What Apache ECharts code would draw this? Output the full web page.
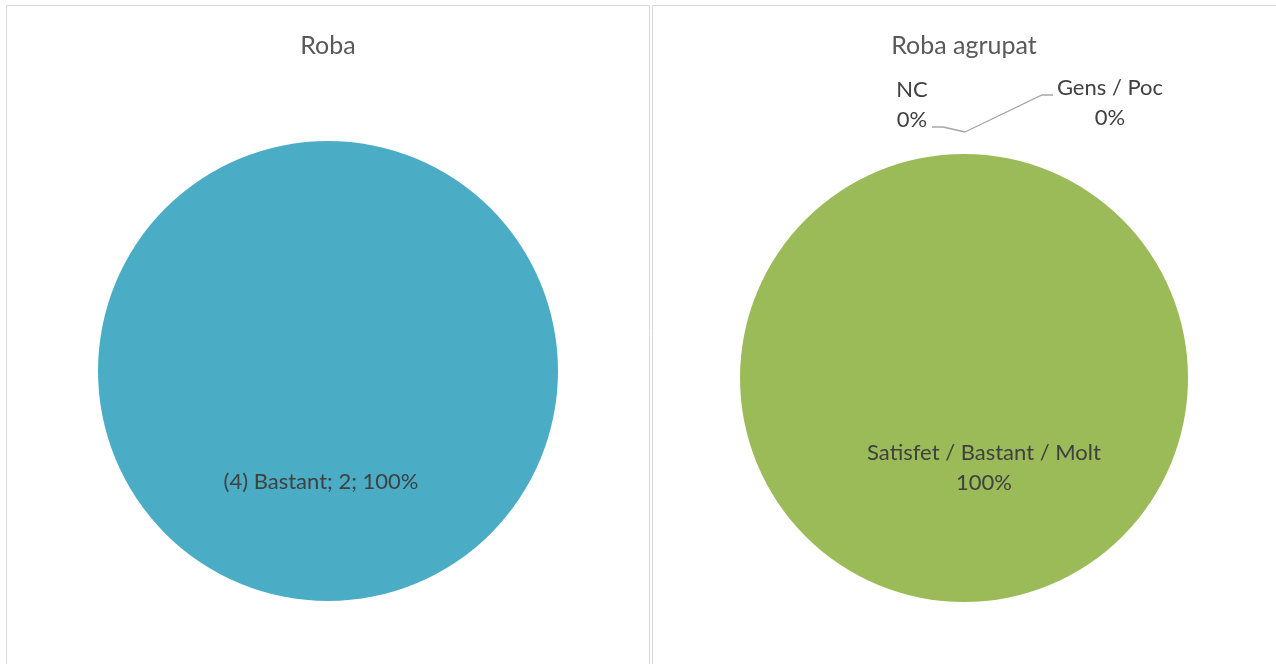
<!DOCTYPE html>
<html>
<head>
<meta charset="utf-8">
<style>
  html, body { margin: 0; padding: 0; background: #fff; }
  #chart { width: 1276px; height: 664px; }
</style>
<script src="https://cdn.jsdelivr.net/npm/echarts@6/dist/echarts.min.js"></script>
</head>
<body>
<div id="chart"></div>
<script>
// left chart: Roba
const robaCategories = ['(4) Bastant']
const robaValues = [2]

// right chart: Roba agrupat (clockwise from the top, as in the source)
const agrupatCategories = ['Gens / Poc', 'Satisfet / Bastant / Molt', 'NC']
const agrupatValues = [0, 2, 0]

const FONT = 'Lato, "Open Sans", sans-serif'
const TEXT = '#404040'

const chart = echarts.init(document.getElementById('chart'))

// where the zero-slice labels go in the right chart (relative to pie center)
const zeroLabels = {
  'Gens / Poc': { x: 146, y: -275, line: [[1, -246], [78, -283], [89, -283]] },
  'NC': { x: -52, y: -273, line: [[1, -246], [-21, -251], [-32, -251]] }
}
const rightCenter = [964, 378]

const option = {
  animation: false,
  title: [
    {
      text: 'Roba', left: 323, top: 28, textAlign: 'center',
      textStyle: { fontFamily: FONT, fontSize: 25, fontWeight: 'normal', color: '#595959' }
    },
    {
      text: 'Roba agrupat', left: 959, top: 28, textAlign: 'center',
      textStyle: { fontFamily: FONT, fontSize: 25, fontWeight: 'normal', color: '#595959' }
    }
  ],
  graphic: [
    { type: 'rect', shape: { x: 6.5, y: 5.5, width: 643, height: 670 }, style: { fill: 'none', stroke: '#d9d9d9', lineWidth: 1 } },
    { type: 'rect', shape: { x: 652.5, y: 5.5, width: 640, height: 670 }, style: { fill: 'none', stroke: '#d9d9d9', lineWidth: 1 } }
  ],
  series: [
    {
      type: 'pie',
      center: [328, 371],
      radius: 230,
      startAngle: 90,
      avoidLabelOverlap: false,
      itemStyle: { color: '#4bacc6', borderWidth: 0 },
      label: {
        position: 'inside',
        formatter: '{b}; {c}; {d}%',
        fontFamily: FONT, fontSize: 22, color: TEXT
      },
      labelLayout: { dx: -7, dy: -7 },
      data: robaCategories.map((name, i) => ({ name, value: robaValues[i] }))
    },
    {
      type: 'pie',
      center: rightCenter,
      radius: 224,
      startAngle: 90,
      avoidLabelOverlap: false,
      itemStyle: { color: '#9bbb59', borderWidth: 0 },
      label: {
        formatter: '{b}\n{d}%',
        fontFamily: FONT, fontSize: 22, color: TEXT, lineHeight: 30
      },
      labelLine: { lineStyle: { color: '#a6a6a6', width: 1.3 } },
      labelLayout: function (params) {
        const z = zeroLabels[params.text.split('\n')[0]]
        if (!z) return { dx: 20, dy: -25 }
        return {
          x: rightCenter[0] + z.x,
          y: rightCenter[1] + z.y,
          align: 'center',
          verticalAlign: 'middle',
          labelLinePoints: z.line.map(p => [rightCenter[0] + p[0], rightCenter[1] + p[1]])
        }
      },
      data: agrupatCategories.map((name, i) => {
        const zero = agrupatValues[i] === 0
        return {
          name,
          value: agrupatValues[i],
          label: { position: zero ? 'outside' : 'inside', align: 'center' },
          labelLine: { show: zero }
        }
      })
    }
  ]
}

chart.setOption(option)
</script>
</body>
</html>
